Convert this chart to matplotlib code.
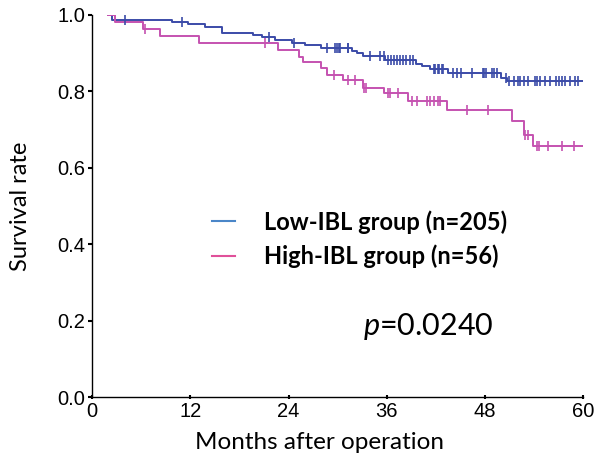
import numpy as np
import matplotlib.pyplot as plt
from matplotlib.lines import Line2D

plt.rcParams['mathtext.fontset'] = 'custom'
plt.rcParams['mathtext.it'] = 'Lato:italic'
plt.rcParams['mathtext.rm'] = 'Lato'

# Kaplan-Meier curves (months, survival)
low_t = [2.0, 2.4, 9.8, 11.7, 13.8, 15.9, 19.7, 20.8, 22.4, 24.4, 26.0, 27.9,
         31.8, 32.4, 33.1, 35.8, 39.5, 40.3, 41.3, 43.5, 49.9, 50.7, 60.0]
low_s = [1.0, 0.987, 0.981, 0.976, 0.968, 0.952, 0.948, 0.941, 0.933, 0.926, 0.920, 0.913,
         0.905, 0.900, 0.893, 0.883, 0.872, 0.867, 0.858, 0.847, 0.835, 0.826, 0.826]
low_cens = [4.0, 11.0, 21.6, 24.7, 28.7, 29.7, 29.9, 30.2, 30.3, 31.2, 31.3,
            34.0, 35.2, 35.6, 36.1, 36.5, 36.9, 37.3, 37.6, 38.0, 38.4, 38.8, 39.2,
            41.7, 41.9, 42.2, 42.4, 42.7, 42.9, 44.1, 44.6, 45.0, 46.4, 47.7, 47.9, 48.1,
            48.9, 49.1, 49.4, 50.5, 50.9, 51.5, 52.0, 52.3, 52.7, 53.2, 54.1, 54.4, 54.7,
            55.3, 55.9, 56.6, 57.0, 57.4, 57.7, 58.4, 59.0, 59.4]

high_t = [2.0, 2.8, 6.2, 8.3, 13.0, 22.7, 25.3, 25.7, 27.9, 28.7, 30.7, 33.1,
          35.6, 38.6, 43.4, 51.3, 52.7, 53.9, 60.0]
high_s = [1.0, 0.981, 0.963, 0.944, 0.925, 0.909, 0.891, 0.876, 0.861, 0.843, 0.830, 0.809,
          0.795, 0.774, 0.750, 0.722, 0.687, 0.658, 0.658]
high_cens = [6.5, 21.1, 29.5, 31.3, 32.1, 33.2, 33.5, 36.2, 36.4, 37.4, 39.1, 39.7,
             40.9, 41.3, 41.8, 42.2, 42.5, 45.8, 48.3, 52.9, 53.2, 54.4, 54.6, 55.7,
             57.4, 58.9]

labels = ['Low-IBL group (n=205)', 'High-IBL group (n=56)']
p_text = r'$\mathit{p}$=0.0240'
xticks = [0, 12, 24, 36, 48, 60]
yticks = [0.0, 0.2, 0.4, 0.6, 0.8, 1.0]

blue = '#3b4ba8'
pink = '#c552b0'


def surv_at(t, times, surv):
    idx = np.searchsorted(times, t, side='right') - 1
    return np.array(surv)[idx]


fig = plt.figure(figsize=(6.02, 4.63), dpi=100)
ax = fig.add_axes([0.153, 0.142, 0.816, 0.826])

ax.step(low_t, low_s, where='post', color=blue, lw=1.4)
ax.step(high_t, high_s, where='post', color=pink, lw=1.4)
ax.plot(low_cens, surv_at(low_cens, low_t, low_s), ls='none', marker='|',
        ms=7, mew=1.2, color=blue)
ax.plot(high_cens, surv_at(high_cens, high_t, high_s), ls='none', marker='|',
        ms=7, mew=1.2, color=pink)

ax.set_xlim(0, 60)
ax.set_ylim(0, 1.0)
ax.set_xticks(xticks)
ax.set_yticks(yticks)
ax.set_yticklabels(['%.1f' % v for v in yticks])
ax.spines['top'].set_visible(False)
ax.spines['right'].set_visible(False)
ax.spines['left'].set_linewidth(1.0)
ax.spines['bottom'].set_linewidth(1.0)
ax.tick_params(axis='both', labelsize=14.5, length=3, width=1.5, pad=2)
ax.tick_params(axis='x', direction='inout')
for lab in ax.get_xticklabels() + ax.get_yticklabels():
    lab.set_family('Liberation Sans')

ax.set_xlabel('Months after operation', fontsize=17.5, family='Lato')
ax.set_ylabel('Survival rate', fontsize=17, family='Lato')
ax.xaxis.set_label_coords(0.462, -0.09)
ax.yaxis.set_label_coords(-0.125, 0.5)

handles = [Line2D([], [], color='#4a86c8', lw=1.5),
           Line2D([], [], color='#e0509a', lw=1.5)]
ax.legend(handles, labels, loc='upper left', bbox_to_anchor=(0.2, 0.545),
          frameon=False, handlelength=1.0, handletextpad=1.2, labelspacing=0.45,
          prop={'family': 'Lato', 'weight': 'bold', 'size': 17})

ax.text(0.552, 0.185, p_text, transform=ax.transAxes, fontsize=22,
        family='Lato', ha='left', va='center')

fig.savefig('out.png', dpi=100)
